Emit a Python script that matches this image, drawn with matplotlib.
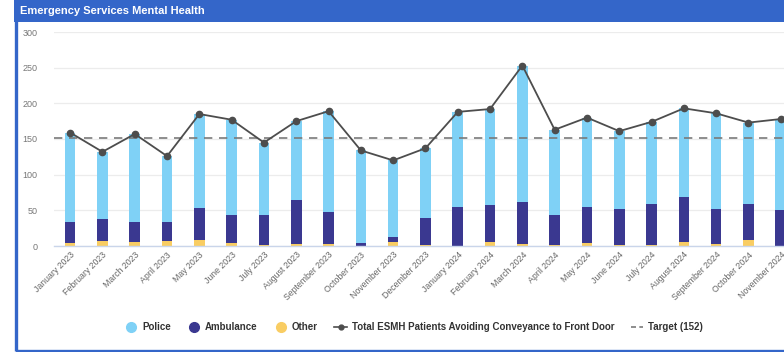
import matplotlib.pyplot as plt
from matplotlib.patches import Rectangle
from matplotlib.lines import Line2D
from matplotlib.transforms import ScaledTranslation
import numpy as np

plt.rcParams['font.family'] = ['Liberation Sans', 'DejaVu Sans']

months = ["January 2023", "February 2023", "March 2023", "April 2023", "May 2023",
          "June 2023", "July 2023", "August 2023", "September 2023", "October 2023",
          "November 2023", "December 2023", "January 2024", "February 2024",
          "March 2024", "April 2024", "May 2024", "June 2024", "July 2024",
          "August 2024", "September 2024", "October 2024", "November 2024"]
total = [159, 132, 157, 126, 185, 177, 145, 175, 189, 134, 120, 137,
         188, 192, 253, 163, 180, 161, 174, 193, 186, 173, 178]
ambulance = [30, 31, 28, 26, 44, 39, 42, 61, 45, 4, 7, 37,
             55, 52, 59, 42, 51, 51, 57, 63, 49, 50, 51]
other = [4, 7, 5, 7, 9, 4, 1, 3, 3, 0, 5, 2,
         0, 6, 3, 1, 4, 1, 2, 5, 3, 9, 0]
police = [t - a - o for t, a, o in zip(total, ambulance, other)]
target = 152

c_police = "#7fd1f6"
c_amb = "#3a3890"
c_other = "#f9cd63"
c_line = "#4d4d4d"
c_target = "#7a7a7a"
c_frame = "#3466c9"

W, H = 784, 352
fig = plt.figure(figsize=(W / 100, H / 100), dpi=100)

# panel frame and header bar
fig.patches.append(Rectangle((15.5 / W, 1 / H), 1.0, 349.5 / H, transform=fig.transFigure,
                             fill=False, edgecolor=c_frame, linewidth=2.4, zorder=0))
fig.patches.append(Rectangle((14 / W, (H - 22) / H), 1.0, 22 / H, transform=fig.transFigure,
                             facecolor=c_frame, edgecolor="none", zorder=1))
fig.text(20 / W, 1 - 11 / H, "Emergency Services Mental Health", color="white",
         fontsize=8, fontweight="bold", va="center", ha="left")

ax = fig.add_axes([54 / W, (H - 246) / H, (W - 54) / W, 214 / H])
x = np.arange(len(months))
bw = 0.33
ax.bar(x, other, bw, color=c_other, zorder=2)
ax.bar(x, ambulance, bw, bottom=other, color=c_amb, zorder=2)
ax.bar(x, police, bw, bottom=np.add(other, ambulance), color=c_police, zorder=2)
ax.plot(x, total, color=c_line, linewidth=1.3, marker="o", markersize=4.5, zorder=4)
ax.axhline(target, color=c_target, linestyle=(0, (5, 4)), linewidth=1.2, zorder=3)

ax.set_xlim(-0.5, 22.1)
ax.set_ylim(0, 300)
ax.set_yticks(range(0, 301, 50))
ax.set_xticks(x)
ax.set_xticklabels(months, rotation=45, ha="right", rotation_mode="anchor",
                   fontsize=6.3, color="#666666")
# nudge rotated month labels slightly left of their bars
shift = ScaledTranslation(-4 / 72, 0, fig.dpi_scale_trans)
for lbl in ax.get_xticklabels():
    lbl.set_transform(lbl.get_transform() + shift)
ax.tick_params(axis="y", labelsize=6.5, labelcolor="#777777", length=0, pad=12)
ax.tick_params(axis="x", length=0, pad=3)
ax.grid(axis="y", color="#ececec", linewidth=0.9, zorder=0)
for s in ["top", "right", "left"]:
    ax.spines[s].set_visible(False)
ax.spines["bottom"].set_color("#c9d5ea")
ax.spines["bottom"].set_linewidth(1.0)

handles = [
    Line2D([], [], linestyle="none", marker="o", markersize=7, color=c_police),
    Line2D([], [], linestyle="none", marker="o", markersize=7, color=c_amb),
    Line2D([], [], linestyle="none", marker="o", markersize=7, color=c_other),
    Line2D([], [], color=c_line, linewidth=1.2, marker="o", markersize=3.5),
    Line2D([], [], color=c_target, linestyle=(0, (3, 2)), linewidth=1.2),
]
labels = ["Police", "Ambulance", "Other",
          "Total ESMH Patients Avoiding Conveyance to Front Door", "Target (152)"]
leg = fig.legend(handles, labels, loc="center", bbox_to_anchor=(414 / W, 1 - 327 / H),
                 ncol=5, frameon=False, fontsize=7, handlelength=1.3,
                 handletextpad=0.5, columnspacing=1.7)
for t in leg.get_texts():
    t.set_color("#333333")
    t.set_fontweight("bold")

fig.savefig("out.png", dpi=100)
